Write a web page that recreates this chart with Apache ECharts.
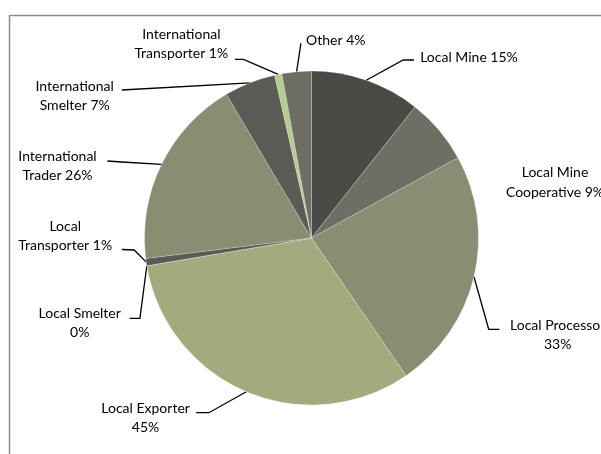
<!DOCTYPE html>
<html>
<head>
<meta charset="utf-8">
<script src="https://cdn.jsdelivr.net/npm/echarts@6/dist/echarts.min.js"></script>
<style>
html,body{margin:0;padding:0;background:#fff;}
#chart{width:601px;height:454px;}
</style>
</head>
<body>
<div id="chart"></div>
<script>
// ---- data ----
const categories = ['Local Mine', 'Local Mine Cooperative', 'Local Processor', 'Local Exporter', 'Local Smelter',
  'Local Transporter', 'International Trader', 'International Smelter', 'International Transporter', 'Other'];
const values = [15, 9, 33, 45, 0, 1, 26, 7, 1, 4];
// label names as wrapped in the picture
const labelNames = ['Local Mine', 'Local Mine\nCooperative', 'Local Processor\n', 'Local Exporter\n', 'Local Smelter\n',
  'Local\nTransporter', 'International\nTrader', 'International\nSmelter', 'International\nTransporter', 'Other'];

// ---- styles / layout ----
const colors = ['#4a4a47', '#6e6f64', '#898d71', '#a3ab7e', '#c3cba0', '#5a5b54', '#898d71', '#5a5b54', '#b5cb92', '#6e6f64'];
const labelPos = [
  {x: 469, y: 57, pts: [[403.2, 60], [414, 60]]},
  {x: 555, y: 182.5, pts: null},
  {x: 557.7, y: 334.7, pts: [[488.7, 329.3], [499.4, 329.3]]},
  {x: 145.6, y: 418, pts: [[208.9, 412.7], [196.2, 412.7]]},
  {x: 79.7, y: 323, pts: [[139.9, 318.3], [129.6, 318.3]]},
  {x: 65.2, y: 236.3, pts: [[134.2, 250], [121.9, 249.5]]},
  {x: 57.5, y: 166.3, pts: [[121.9, 162], [107.3, 161]]},
  {x: 74.7, y: 95.7, pts: [[121.9, 90], [121.9, 90]]},
  {x: 181.3, y: 44.2, pts: [[243.4, 59.3], [235, 59.3]]},
  {x: 335.8, y: 40.7, pts: [[300.9, 43.3], [300.9, 43.3]]}
];

const chart = echarts.init(document.getElementById('chart'), null, {renderer: 'canvas'});
const data = categories.map((c, i) => ({
  name: c,
  value: values[i],
  itemStyle: {color: colors[i]},
  labelLine: {show: labelPos[i].pts !== null}
}));

chart.setOption({
  animation: false,
  graphic: [{
    type: 'rect', left: 7, top: 13, shape: {width: 640, height: 480},
    style: {fill: 'none', stroke: '#8c8c8c', lineWidth: 1.5}, silent: true
  }],
  series: [{
    type: 'pie',
    center: [311.5, 238],
    radius: 167,
    startAngle: 90,
    clockwise: true,
    avoidLabelOverlap: false,
    data: data,
    itemStyle: {borderColor: 'rgba(255,255,255,0.45)', borderWidth: 0.5},
    label: {
      show: true,
      position: 'outside',
      formatter: p => {
        const n = labelNames[p.dataIndex];
        return n + (n.endsWith('\n') ? '' : ' ') + p.value + '%';
      },
      fontFamily: 'Lato',
      fontSize: 14,
      lineHeight: 19.3,
      color: '#000',
      align: 'center'
    },
    labelLine: {show: true, length: 10, length2: 10, lineStyle: {color: '#000', width: 1.3}},
    emphasis: {disabled: true}
  }],
});

chart.setOption({
  series: [{
    labelLayout: function (p) {
      const L = labelPos[p.dataIndex];
      const out = {x: L.x, y: L.y, align: 'center', verticalAlign: 'middle'};
      if (L.pts && p.labelLinePoints) {
        out.labelLinePoints = [p.labelLinePoints[0], L.pts[0], L.pts[1]];
      }
      return out;
    }
  }]
});
</script>
</body>
</html>
